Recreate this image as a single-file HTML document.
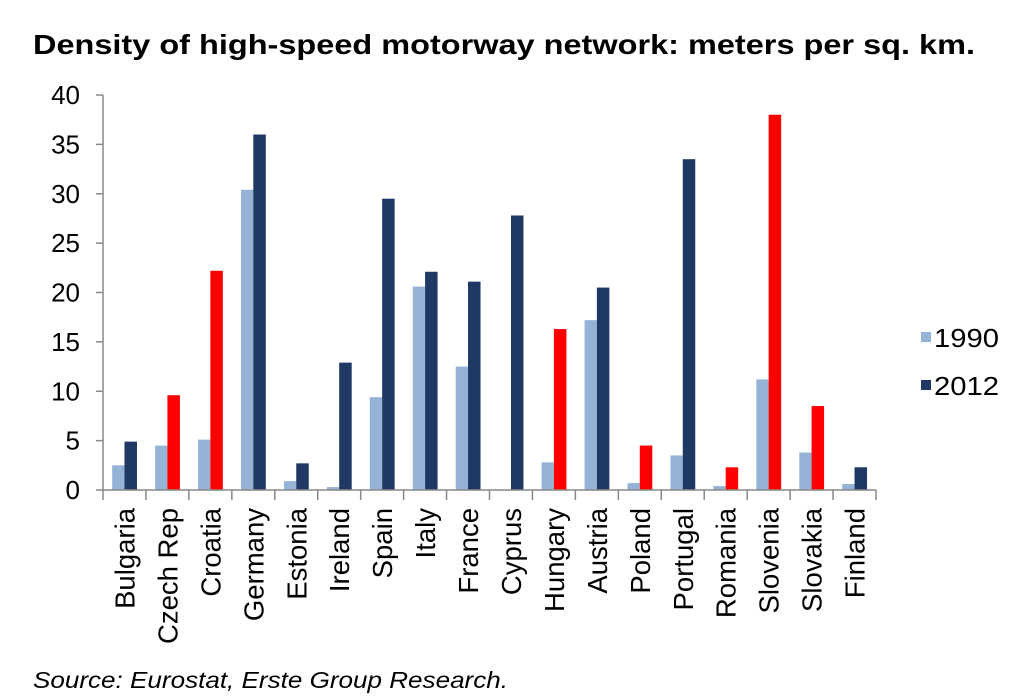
<!DOCTYPE html>
<html><head><meta charset="utf-8"><style>
html,body{margin:0;padding:0;background:#fff;}
svg{display:block;font-family:"Liberation Sans",Arial,sans-serif;}
</style></head><body>
<svg width="1015" height="700" viewBox="0 0 1015 700">
<text x="33" y="54" font-size="28" font-weight="bold" textLength="942" lengthAdjust="spacingAndGlyphs">Density of high-speed motorway network: meters per sq. km.</text>
<g id="y" font-size="26" text-anchor="end"></g>
<g id="bars"></g>
<line x1="103" y1="95" x2="103" y2="490" stroke="#888" stroke-width="1.5"/>
<line x1="103" y1="490" x2="876" y2="490" stroke="#888" stroke-width="1.5"/>
<g id="t"></g>
<rect x="921" y="332" width="10" height="10" fill="#95B3D7"/>
<text x="934" y="347" font-size="26" textLength="65" lengthAdjust="spacingAndGlyphs">1990</text>
<rect x="921" y="380" width="10" height="10" fill="#1F3864"/>
<text x="934" y="395" font-size="26" textLength="65" lengthAdjust="spacingAndGlyphs">2012</text>
<text x="33" y="688" font-size="23" font-style="italic" textLength="475" lengthAdjust="spacingAndGlyphs">Source: Eurostat, Erste Group Research.</text>
</svg>
<script>
var NS="http://www.w3.org/2000/svg";
function el(p,n,a,t){var e=document.createElementNS(NS,n);for(var k in a)e.setAttribute(k,a[k]);if(t)e.textContent=t;document.getElementById(p).appendChild(e);}
var d=[["Bulgaria",2.5,4.9,0],["Czech Rep",4.5,9.6,1],["Croatia",5.1,22.2,1],["Germany",30.4,36,0],["Estonia",0.9,2.7,0],["Ireland",0.3,12.9,0],["Spain",9.4,29.5,0],["Italy",20.6,22.1,0],["France",12.5,21.1,0],["Cyprus",0,27.8,0],["Hungary",2.8,16.3,1],["Austria",17.2,20.5,0],["Poland",0.7,4.5,1],["Portugal",3.5,33.5,0],["Romania",0.4,2.3,1],["Slovenia",11.2,38,1],["Slovakia",3.8,8.5,1],["Finland",0.6,2.3,0]];
var y0=490,s=9.875,w=(876-103)/18;
for(var i=0;i<=8;i++){var y=y0-i*5*s;el("y","text",{x:80,y:y+9},String(i*5));el("t","line",{x1:96,y1:y,x2:103,y2:y,stroke:"#888","stroke-width":1.5});}
d.forEach(function(r,i){var x=103+i*w,c=x+w/2;
el("bars","rect",{x:c-12.3,y:y0-r[1]*s,width:12.3,height:r[1]*s,fill:"#95B3D7"});
el("bars","rect",{x:c,y:y0-r[2]*s,width:12.5,height:r[2]*s,fill:r[3]?"#FF0000":"#1F3864"});
el("t","line",{x1:x+w,y1:490,x2:x+w,y2:500,stroke:"#888","stroke-width":1.5});
el("t","text",{transform:"translate("+(c+10)+",508) rotate(-90)","text-anchor":"end","font-size":"27.5"},r[0]);
});
el("t","line",{x1:103,y1:490,x2:103,y2:500,stroke:"#888","stroke-width":1.5});
</script>
</body></html>
